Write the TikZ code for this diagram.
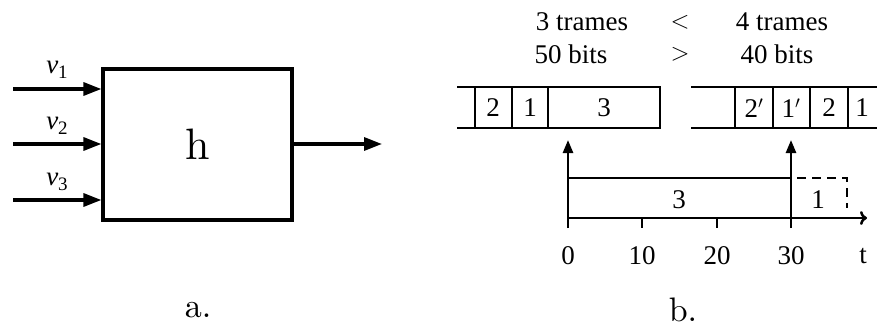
\documentclass[tikz,border=0pt]{standalone}
\usepackage{fontspec}
\setmainfont{Liberation Serif}
\newfontfamily\lmfont{lmroman10-regular}[Extension=.otf]
\usetikzlibrary{arrows.meta}
\tikzset{
  bigarrow/.style={line width=3.2pt,-{Triangle[length=18pt,width=13pt]}},
  thinline/.style={line width=1.9pt},
  axisline/.style={line width=2.5pt},
  lbl/.style={inner sep=0pt,font=\fontsize{27}{30}\selectfont},
  vlbl/.style={inner sep=0pt,font=\fontsize{27}{30}\selectfont},
  captionlbl/.style={inner sep=0pt,font=\lmfont\fontsize{34}{40}\selectfont},
}
\newcommand{\vsub}[1]{\textit{v}\raisebox{-5pt}{\fontsize{19}{19}\selectfont #1}}
\begin{document}
\begin{tikzpicture}[x=1pt,y=-1pt]
\useasboundingbox (0,0) rectangle (877,329);
% ---- part a
\node[draw,line width=3.2pt,minimum width=189pt,minimum height=151pt,inner sep=0pt,
      font=\lmfont\fontsize{44}{50}\selectfont] (h) at (197.5,144.5) {h};
\coordinate (i1) at (13,89);
\coordinate (i2) at (13,144);
\coordinate (i3) at (13,200);
\coordinate (o) at (382,144);
\draw[bigarrow] (i1) -- (h.west |- i1);
\draw[bigarrow] (i2) -- (h.west |- i2);
\draw[bigarrow] (i3) -- (h.west |- i3);
\draw[bigarrow] (h.east |- o) -- (o);
\node[vlbl] (v1) at (57,70) {\vsub{1}};
\node[vlbl] (v2) at (57,126) {\vsub{2}};
\node[vlbl] (v3) at (57,182) {\vsub{3}};
\node[captionlbl] (capa) at (198,310) {a.};
% ---- part b header
\node[lbl] (t3) at (582,22) {3 trames};
\node[lbl] (lt) at (680,22) {$<$};
\node[lbl] (t4) at (782,22) {4 trames};
\node[lbl] (b50) at (571,54) {50 bits};
\node[lbl] (gt) at (680,54) {$>$};
\node[lbl] (b40) at (777,54) {40 bits};
% ---- left buffer
\draw[thinline] (457,87) -- (660,87) -- (660,128) -- (457,128);
\foreach \x in {475,512,548} \draw[thinline] (\x,87) -- (\x,128);
\node[lbl] (l2) at (493,108) {2};
\node[lbl] (l1) at (530,108) {1};
\node[lbl] (l3) at (604,108) {3};
% ---- right buffer
\draw[thinline] (691,87) -- (877,87);
\draw[thinline] (691,128) -- (877,128);
\foreach \x in {735,773,810,848} \draw[thinline] (\x,87) -- (\x,128);
\node[lbl] (r2p) at (754,108) {2$'$};
\node[lbl] (r1p) at (791,108) {1$'$};
\node[lbl] (r2) at (829,108) {2};
\node[lbl] (r1) at (862,108) {1};
% ---- timeline
\coordinate (t0) at (568,218);
\coordinate (tend) at (867,218);
\draw[axisline,-{To[length=7pt,width=14pt]}] (t0) -- (tend);
\draw[axisline,-{Triangle[length=13pt,width=10pt]}] (568,228) -- (568,140);
\draw[axisline,-{Triangle[length=13pt,width=10pt]}] (791,228) -- (791,140);
\draw[axisline] (642,218) -- (642,228);
\draw[axisline] (717,218) -- (717,228);
\draw[thinline] (568,178) -- (791,178);
\draw[thinline,dashed,dash pattern=on 9pt off 6pt] (797,178) -- (847,178) -- (847,208);
\node[lbl] (f3) at (679,200) {3};
\node[lbl] (f1) at (818,200) {1};
\node[lbl] (n0) at (568,256) {0};
\node[lbl] (n10) at (642,256) {10};
\node[lbl] (n20) at (717,256) {20};
\node[lbl] (n30) at (791,256) {30};
\node[lbl] (nt) at (863,256) {t};
\node[captionlbl] (capb) at (683,310) {b.};
\end{tikzpicture}
\end{document}
